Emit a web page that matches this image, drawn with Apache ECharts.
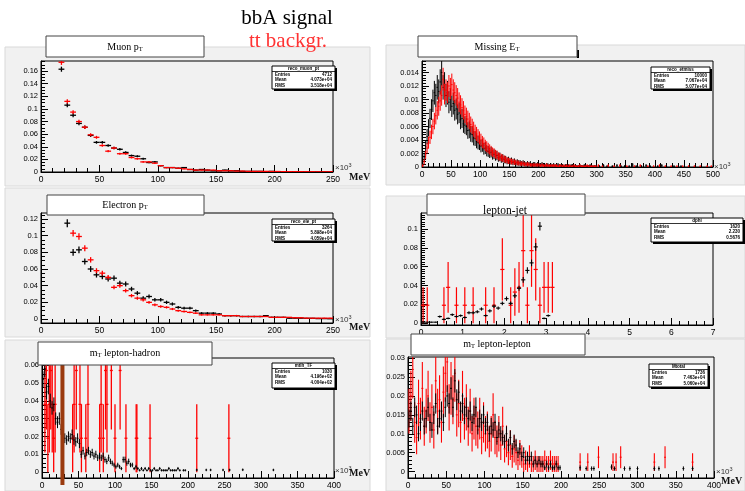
<!DOCTYPE html>
<html><head><meta charset="utf-8">
<script src="https://cdn.jsdelivr.net/npm/echarts@6/dist/echarts.min.js"></script>
<style>html,body{margin:0;padding:0;background:#fff}#c{width:745px;height:491px}</style>
</head><body><div id="c"></div><script>
// ================= DATA =================
// Muon pT (bins of 5 x10^3 MeV, first bin starts at 15)
const muonBinStart = 15, muonBinWidth = 5;
const muonSignal = [0.163,0.106,0.090,0.077,0.071,0.058,0.047,0.047,0.042,0.038,0.036,0.031,0.026,0.025,0.021,0.015,0.016,0.010,0.007,0.007,0.006,0.007,0.004,0.003,0.004,0.003,0.002,0.002,0.003,0.002,0.002,0.001,0.001,0.001,0.001,0.0005,0.001,0.0005,0.0005,0.0003,0.0005,0.0003,0.0002,0.0003,0.0002,0.0002,0.0001];
const muonBkg = [0.174,0.112,0.095,0.080,0.071,0.059,0.055,0.042,0.033,0.038,0.029,0.029,0.023,0.021,0.016,0.016,0.014,0.010,0.007,0.007,0.006,0.005,0.004,0.003,0.003,0.003,0.003,0.002,0.002,0.002,0.0015,0.0015,0.001,0.001,0.001,0.001,0.0008,0.0008,0.0006,0.0006,0.0005,0.0005,0.0004,0.0004,0.0003,0.0003,0.0003];
const muonYTicks = [0,0.02,0.04,0.06,0.08,0.1,0.12,0.14,0.16];

// Missing ET (bins of 2.5 x10^3 MeV from 0 to 300, then sparse points)
const etBinStart = 0, etBinWidth = 2.5;
const etSignal = [0.0004,0.0015,0.0030,0.0045,0.0058,0.0072,0.0085,0.0098,0.0110,0.0106,
0.0118,0.0112,0.0126,0.0140,0.0118,0.0122,0.0106,0.0110,0.0096,0.0100,
0.0090,0.0094,0.0084,0.0086,0.0078,0.0080,0.0070,0.0072,0.0064,0.0062,
0.0060,0.0054,0.0055,0.0049,0.0048,0.0043,0.0042,0.0038,0.0036,0.0035,
0.0031,0.0032,0.0027,0.0028,0.0024,0.0023,0.0021,0.0022,0.0018,0.0019,
0.0016,0.0017,0.0014,0.0015,0.0012,0.0013,0.0011,0.0011,0.0009,0.0010,
0.0008,0.0009,0.0007,0.0008,0.0006,0.0007,0.0006,0.0006,0.0005,0.0006,
0.0005,0.0004,0.0005,0.0004,0.0005,0.0003,0.0004,0.0004,0.0003,0.0004,
0.0003,0.0003,0.0004,0.0003,0.0002,0.0003,0.0003,0.0002,0.0003,0.0002,
0.0003,0.0002,0.0002,0.0003,0.0002,0.0002,0.0002,0.0001,0.0002,0.0002,
0.0002,0.0001,0.0002,0.0002,0.0001,0.0002,0.0001,0.0001,0.0002,0.0001,
0.0001,0.0002,0.0001,0.0001,0.0001,0.0002,0.0001,0.0001,0.0001,0.0001];
const etBkg = [0.0002,0.0008,0.0018,0.0028,0.0036,0.0044,0.0052,0.0060,0.0068,0.0076,
0.0084,0.0090,0.0098,0.0106,0.0130,0.0108,0.0114,0.0110,0.0120,0.0116,
0.0122,0.0114,0.0110,0.0106,0.0102,0.0096,0.0092,0.0088,0.0084,0.0078,
0.0075,0.0071,0.0068,0.0063,0.0060,0.0056,0.0052,0.0049,0.0046,0.0043,
0.0040,0.0037,0.0035,0.0032,0.0030,0.0028,0.0026,0.0024,0.0022,0.0021,
0.0019,0.0018,0.0016,0.0015,0.0014,0.0013,0.0012,0.0011,0.0010,0.0009,
0.0009,0.0008,0.0008,0.0007,0.0007,0.0006,0.0006,0.0005,0.0005,0.0005,
0.0004,0.0004,0.0004,0.0004,0.0003,0.0003,0.0003,0.0003,0.0003,0.0003,
0.0003,0.0002,0.0003,0.0002,0.0002,0.0003,0.0002,0.0002,0.0002,0.0002,
0.0002,0.0002,0.0002,0.0001,0.0002,0.0002,0.0001,0.0002,0.0001,0.0002,
0.0001,0.0002,0.0001,0.0001,0.0002,0.0001,0.0001,0.0001,0.0002,0.0001,
0.0001,0.0001,0.0001,0.0002,0.0001,0.0001,0.0001,0.0001,0.0001,0.0001];
const etSignalTail = [[305,0.0001],[312,0.0002],[318,0.0001],[327,0.0001],[335,0.0002],[342,0.0001],[348,0.0001],[356,0.0001],[362,0.0003],[368,0.0001],[377,0.0001],[385,0.0002],[392,0.0001],[405,0.0001],[412,0.0002],[420,0.0001],[433,0.0001],[445,0.0001]];
const etBkgTail = [[303,0.0002],[310,0.0001],[320,0.0002],[330,0.0001],[340,0.0002],[352,0.0001],[365,0.0001],[375,0.0002],[388,0.0001],[398,0.0001],[408,0.0002],[418,0.0001],[428,0.0001],[438,0.0001],[448,0.0001],[458,0.0001],[468,0.0001],[478,0.0001],[490,0.0001],[497,0.0001]];
const etYTicks = [0,0.002,0.004,0.006,0.008,0.01,0.012,0.014];

// Electron pT (bins of 5 from 20)
const eleBinStart = 20, eleBinWidth = 5;
const eleSignal = [0.115,0.080,0.083,0.069,0.060,0.053,0.051,0.048,0.049,0.043,0.042,0.036,0.031,0.025,0.027,0.023,0.023,0.020,0.018,0.014,0.013,0.013,0.010,0.007,0.007,0.007,0.006,0.004,0.004,0.004,0.003,0.003,0.003,0.003,0.004,0.002,0.002,0.002,0.001,0.001,0.001,0.0008,0.0008,0.0005,0.0005,0.0003];
const eleBkg = [null,0.103,0.099,0.085,0.071,0.058,0.055,0.050,0.038,0.040,0.034,0.028,0.025,0.023,0.020,0.017,0.015,0.014,0.012,0.010,0.009,0.008,0.007,0.005,0.005,0.005,0.005,0.004,0.004,0.004,0.003,0.003,0.003,0.003,0.003,0.002,0.002,0.002,0.002,0.0015,0.0015,0.001,0.001,0.001,0.001,0.001];
const eleYTicks = [0,0.02,0.04,0.06,0.08,0.1,0.12];

// lepton-jet (bins of 0.1 from 0)
const ljBinStart = 0, ljBinWidth = 0.1;
const ljSignal = [0.001,0.001,0.001,0.001,0.007,0.004,0.005,0.009,0.007,0.008,0.006,0.011,0.011,0.012,0.015,0.008,0.013,0.018,0.016,0.021,0.026,0.021,0.029,0.037,0.046,0.056,0.064,0.081,0.103,0.005,0.008];
const ljBkg = [[0.05,0.019],[0.15,0.019],[0.55,0.019],[0.65,0.038],[0.85,0.019],[1.05,0.019],[1.25,0.019],[1.55,0.019],[1.75,0.019],[1.95,0.057],[2.15,0.019],[2.25,0.033],[2.35,0.038],[2.45,0.077],[2.55,0.019],[2.65,0.077],[2.75,0.057],[2.85,0.019],[2.95,0.038],[3.05,0.038],[3.15,0.038]];
const ljYTicks = [0,0.02,0.04,0.06,0.08,0.1];

// mT lepton-hadron (bins of 2.5 from 0, then sparse)
const lhBinStart = 0, lhBinWidth = 2.5;
const lhSignal = [0.052,0.058,0.045,0.048,0.040,0.036,0.038,0.030,0.028,0.030,
0.024,0.022,0.019,0.018,0.020,0.019,0.021,0.018,0.017,0.019,
0.016,0.010,0.012,0.009,0.011,0.012,0.010,0.011,0.009,0.010,
0.008,0.009,0.008,0.009,0.007,0.006,0.008,0.006,0.005,0.004,
0.003,0.004,0.003,0.002,0.007,0.007,0.005,0.006,0.004,0.004,
0.002,0.003,0.002,0.001,0.002,0.001,0.002,0.001,0.002,0.001,
0.001,0.002,0.001,0.001,0.002,0.001,0.001,0.001,0.001,0.002,
0.001,0.001,0.001,0.001,0.002,0.001,null,0.001,0.001,null];
const lhSignalTail = [[212,0.0012],[225,0.0012],[231,0.0012],[248,0.0012],[257,0.0012],[275,0.0013],[317,0.0012]];
const lhBkg = [[4,0.038],[6,0.057],[8,0.019],[10,0.038],[12,0.057],[14,0.038],[16,0.019],[18,0.038],[42,0.019],[44,0.038],[47,0.057],[52,0.038],[54,0.019],[60,0.019],[63,0.038],[79,0.019],[81,0.038],[84,0.019],[87,0.057],[89,0.038],[95,0.057],[100,0.019],[107,0.057],[115,0.019],[129,0.019],[130,0.019],[148,0.019],[212,0.019],[256,0.019]];
const lhMarker = [28];
const lhYTicks = [0,0.01,0.02,0.03,0.04,0.05,0.06];

// mT lepton-lepton (bins of 2.5 from 0, then sparse)
const llBinStart = 0, llBinWidth = 2.5;
const llSignal = [0.014,0.016,0.012,0.017,0.015,0.010,0.013,0.016,0.012,0.014,
0.017,0.013,0.011,0.015,0.018,0.012,0.014,0.016,0.013,0.017,
0.020,0.018,0.022,0.017,0.024,0.019,0.021,0.016,0.018,0.015,
0.017,0.014,0.016,0.013,0.015,0.017,0.012,0.014,0.013,0.015,
0.012,0.013,0.010,0.012,0.011,0.013,0.009,0.011,0.010,0.009,
0.008,0.010,0.007,0.009,0.006,0.008,0.007,0.005,0.006,0.004,
0.005,0.003,0.004,0.003,0.004,0.002,0.003,0.002,0.003,0.002,
0.002,0.001,0.002,0.001,0.002,0.001,0.001,0.002,0.001,0.001];
const llSignalTail = [[225,0.001],[233,0.0008],[240,0.0008],[243,0.0008],[266,0.0012],[270,0.0008],[283,0.0008],[290,0.0008],[300,0.0008],[322,0.0008],[328,0.0008],[360,0.0008],[372,0.0008]];
const llBkg = [0.016,0.020,0.027,0.013,0.009,0.018,0.014,0.022,0.012,0.016,
0.020,0.013,0.017,0.011,0.024,0.016,0.019,0.013,0.021,0.026,
0.029,0.017,0.022,0.019,0.026,0.015,0.018,0.013,0.020,0.014,
0.017,0.012,0.016,0.010,0.014,0.012,0.011,0.014,0.009,0.013,
0.010,0.011,0.008,0.010,0.015,0.009,0.008,0.010,0.007,0.012,
0.006,0.008,0.005,0.007,0.004,0.006,0.005,0.003,0.005,0.004,
0.002,0.003,0.002,0.004,0.002,0.002,0.003,0.002,0.002,0.002,
0.002,0.003,0.002,0.002,0.003,0.002,0.002,0.002,0.002,null];
const llBkgTail = [[225,0.0025],[235,0.0025],[249,0.0038],[268,0.0025],[272,0.0025],[278,0.0038],[322,0.0025],[336,0.0038],[372,0.0025]];
const llYTicks = [0,0.005,0.01,0.015,0.02,0.025,0.03];

// per-entry weights (error = sqrt(content * weight))
const W_MUON_S = 0.0001, W_MUON_B = 0.0001;
const W_ET_S = 0.00028, W_ET_B = 0.00022;
const W_ELE_S = 0.0002, W_ELE_B = 0.00015;
const W_LJ_S = 0.0002, W_LJ_B = 0.0192;
const W_LH_S = 0.0004, W_LH_B = 0.0192;
const W_LL_S = 0.0004, W_LL_B = 0.0022;

// ================= BUILD =================
const SANS = 'Liberation Sans, Arial, sans-serif';
const SERIF = 'Liberation Serif, Times New Roman, serif';
const RED = '#ff0000', BLK = '#000000';

function binned(start, width, vals) {
  const out = [];
  vals.forEach((v, i) => { if (v != null) out.push([start + (i + 0.5) * width, v]); });
  return out;
}
function minorList(max, step) {
  const out = []; for (let k = 0; k * step <= max + 1e-12; k++) out.push(+(k * step).toFixed(6)); return out;
}
function errRender(half, w, color, lw) {
  return function (params, api) {
    const x = api.value(0), y = api.value(1);
    const e = Math.sqrt(Math.max(y, 0) * w);
    const a = api.coord([x - half, y]), b = api.coord([x + half, y]);
    const c = api.coord([x, y + e]), d = api.coord([x, y - e]);
    return { type: 'group', children: [
      { type: 'line', shape: { x1: a[0], y1: a[1], x2: b[0], y2: b[1] }, style: { stroke: color, lineWidth: lw } },
      { type: 'line', shape: { x1: c[0], y1: c[1], x2: d[0], y2: d[1] }, style: { stroke: color, lineWidth: lw } }
    ]};
  };
}

const panels = [
  { grid: { left: 41, top: 61, width: 292, height: 111 }, x: [0, 250, 50], y: [0, 0.176], ticks: muonYTicks, minor: 0.005,
    series: [
      { data: binned(muonBinStart, muonBinWidth, muonSignal), half: 2.5, w: W_MUON_S, color: BLK, lw: 1.3 },
      { data: binned(muonBinStart, muonBinWidth, muonBkg), half: 2.5, w: W_MUON_B, color: RED, lw: 1.3 } ] },
  { grid: { left: 422, top: 61, width: 291, height: 106 }, x: [0, 500, 50], y: [0, 0.0157], ticks: etYTicks, minor: 0.0004,
    series: [
      { data: binned(etBinStart, etBinWidth, etSignal).concat(etSignalTail), half: 1.25, w: W_ET_S, color: BLK, lw: 1 },
      { data: binned(etBinStart, etBinWidth, etBkg).concat(etBkgTail), half: 1.25, w: W_ET_B, color: RED, lw: 1 } ] },
  { grid: { left: 41, top: 213, width: 292, height: 110 }, x: [0, 250, 50], y: [-0.0048, 0.1272], ticks: eleYTicks, minor: 0.005,
    series: [
      { data: binned(eleBinStart, eleBinWidth, eleSignal), half: 2.5, w: W_ELE_S, color: BLK, lw: 1.3 },
      { data: binned(eleBinStart, eleBinWidth, eleBkg), half: 2.5, w: W_ELE_B, color: RED, lw: 1.3 } ] },
  { grid: { left: 421, top: 213, width: 292, height: 112 }, x: [0, 7, 1], y: [-0.002, 0.117], ticks: ljYTicks, minor: 0.0025,
    series: [
      { data: ljBkg, half: 0.05, w: W_LJ_B, color: RED, lw: 1.2 },
      { data: binned(ljBinStart, ljBinWidth, ljSignal), half: 0.05, w: W_LJ_S, color: BLK, lw: 1.1 } ] },
  { grid: { left: 42, top: 358, width: 292, height: 120 }, x: [0, 400, 50], y: [-0.0033, 0.064], ticks: lhYTicks, minor: 0.0025,
    series: [
      { data: lhBkg, half: 2, w: W_LH_B, color: RED, lw: 1.3 },
      { data: binned(lhBinStart, lhBinWidth, lhSignal).concat(lhSignalTail), half: 1.25, w: W_LH_S, color: BLK, lw: 1 } ] },
  { grid: { left: 408, top: 357, width: 306, height: 121 }, x: [0, 400, 50], y: [-0.0017, 0.0303], ticks: llYTicks, minor: 0.001,
    series: [
      { data: binned(llBinStart, llBinWidth, llBkg).concat(llBkgTail), half: 1.25, w: W_LL_B, color: RED, lw: 1.1 },
      { data: binned(llBinStart, llBinWidth, llSignal).concat(llSignalTail), half: 1.25, w: W_LL_S, color: BLK, lw: 1 } ] }
];

const grids = [], xAxes = [], yAxes = [], series = [];
panels.forEach((p, gi) => {
  grids.push(Object.assign({ show: true, borderColor: '#000', borderWidth: 1, backgroundColor: 'transparent', outerBoundsMode: 'none', containLabel: false }, p.grid));
  xAxes.push({ type: 'value', gridIndex: gi, min: p.x[0], max: p.x[1], interval: p.x[2],
    axisLine: { show: true, onZero: false, lineStyle: { color: '#000', width: 1 } },
    axisTick: { show: true, inside: true, length: 7, lineStyle: { color: '#000' } },
    minorTick: { show: true, splitNumber: 5, length: 4, lineStyle: { color: '#000' } },
    axisLabel: { color: '#000', fontSize: 8.5, fontFamily: SANS, margin: 3, hideOverlap: false },
    splitLine: { show: false }, minorSplitLine: { show: false } });
  yAxes.push({ type: 'value', gridIndex: gi, min: p.y[0], max: p.y[1], position: 'left',
    axisLine: { show: true, onZero: false, lineStyle: { color: '#000', width: 1 } },
    axisTick: { show: true, inside: true, length: 7, customValues: p.ticks, lineStyle: { color: '#000' } },
    axisLabel: { color: '#000', fontSize: 7.5, fontFamily: SANS, margin: 3, customValues: p.ticks, formatter: v => String(+(+v).toFixed(4)), hideOverlap: false },
    splitLine: { show: false } });
  yAxes.push({ type: 'value', gridIndex: gi, min: p.y[0], max: p.y[1], position: 'left',
    axisLine: { show: false },
    axisTick: { show: true, inside: true, length: 4, customValues: minorList(p.y[1], p.minor), lineStyle: { color: '#000' } },
    axisLabel: { show: false }, splitLine: { show: false } });
  p.series.forEach(s => {
    series.push({ type: 'custom', xAxisIndex: gi, yAxisIndex: gi * 2, clip: true, data: s.data,
      encode: { x: 0, y: 1 }, renderItem: errRender(s.half, s.w, s.color, s.lw), silent: true });
  });
});
// marker line in mT lepton-hadron panel
series.push({ type: 'custom', xAxisIndex: 4, yAxisIndex: 8, clip: false, data: lhMarker.map(v => [v]), encode: { x: 0 },
  renderItem: function (params, api) {
    const cs = params.coordSys; const px = api.coord([api.value(0), 0])[0];
    return { type: 'rect', shape: { x: px - 2, y: cs.y, width: 4, height: cs.height + 7 }, style: { fill: '#9a3a0e' } };
  }, z: 5 });

// ---------- decorations ----------
const g = [];
const pads = [[5, 47, 365, 139], [386, 45, 359, 140], [5, 188, 365, 149], [386, 196, 359, 142], [5, 340, 365, 151], [386, 339, 359, 152]];
pads.forEach(r => g.push({ type: 'rect', z: -10, shape: { x: r[0], y: r[1], width: r[2], height: r[3] }, style: { fill: '#f1f1f1', stroke: '#d9d9d9', lineWidth: 1 } }));

function titleBox(x, y, w, h, rich, tx, ty) {
  g.push({ type: 'rect', z: 50, shape: { x: x, y: y, width: w, height: h }, style: { fill: '#fff', stroke: '#444', lineWidth: 1 } });
  g.push({ type: 'text', z: 51, x: tx, y: ty, style: { text: rich, align: 'center', verticalAlign: 'middle', rich: {
    m: { fontFamily: SERIF, fontSize: 10, fill: '#000', lineHeight: 12 },
    L: { fontFamily: SERIF, fontSize: 11.5, fill: '#000', lineHeight: 12 },
    s: { fontFamily: SERIF, fontSize: 6.5, fill: '#000', padding: [5, 0, 0, 0], lineHeight: 12 } } } });
}
titleBox(46, 36, 158, 21, '{m|Muon p}{s|T}', 125, 47);
titleBox(418, 36, 159, 21, '{m|Missing E}{s|T}', 497, 47);
g.push({ type: 'rect', z: 49, shape: { x: 577, y: 50, width: 2, height: 8 }, style: { fill: '#000' } });
titleBox(47, 195, 157, 20, '{m|Electron p}{s|T}', 125, 205);
titleBox(427, 194, 158, 21, '', 506, 204);
g.push({ type: 'text', z: 52, x: 505, y: 211, style: { text: 'lepton-jet', align: 'center', verticalAlign: 'middle', font: '11.5px ' + SERIF, fill: '#000' } });
titleBox(38, 342, 174, 23, '{m|m}{s|T}{m| lepton-hadron}', 125, 353);
titleBox(411, 334, 174, 21, '{m|m}{s|T}{m| lepton-lepton}', 497, 344);

function statBox(x, y, w, h, name, rows) {
  g.push({ type: 'rect', z: 49, shape: { x: x + 2, y: y + 2, width: w, height: h }, style: { fill: '#000' } });
  g.push({ type: 'rect', z: 50, shape: { x: x, y: y, width: w, height: h }, style: { fill: '#fff', stroke: '#000', lineWidth: 1 } });
  g.push({ type: 'line', z: 51, shape: { x1: x, y1: y + 5.5, x2: x + w, y2: y + 5.5 }, style: { stroke: '#000', lineWidth: 0.8 } });
  g.push({ type: 'text', z: 51, x: x + w / 2, y: y + 3, style: { text: name, align: 'center', verticalAlign: 'middle', font: 'bold 4.5px ' + SANS, fill: '#000' } });
  rows.forEach((r, i) => {
    const yy = y + 8.5 + i * 5.6;
    g.push({ type: 'text', z: 51, x: x + 3, y: yy, style: { text: r[0], align: 'left', verticalAlign: 'middle', font: 'bold 4.5px ' + SANS, fill: '#000' } });
    g.push({ type: 'text', z: 51, x: x + w - 3, y: yy, style: { text: r[1], align: 'right', verticalAlign: 'middle', font: 'bold 4.5px ' + SANS, fill: '#000' } });
  });
}
statBox(272, 66, 63, 23, 'reco_muon_pt', [['Entries', '4712'], ['Mean', '4.073e+04'], ['RMS', '3.518e+04']]);
statBox(651, 67, 59, 22, 'reco_etmiss', [['Entries', '10000'], ['Mean', '7.067e+04'], ['RMS', '5.077e+04']]);
statBox(272, 219, 63, 22, 'reco_ele_pt', [['Entries', '3264'], ['Mean', '5.898e+04'], ['RMS', '4.059e+04']]);
statBox(651, 218, 92, 24, 'dphi', [['Entries', '1620'], ['Mean', '2.230'], ['RMS', '0.5676']]);
statBox(272, 363, 63, 25, 'mtlh_TF', [['Entries', '1030'], ['Mean', '4.196e+02'], ['RMS', '4.004e+02']]);
statBox(649, 364, 59, 23, 'Mtotal', [['Entries', '1736'], ['Mean', '7.463e+04'], ['RMS', '5.060e+04']]);

function unit(x, y, withMeV, mx, my) {
  g.push({ type: 'text', z: 52, x: x, y: y, style: { text: '×10{e|3}', rich: { e: { fontSize: 5.5, padding: [0, 0, 5, 0], fontFamily: SANS } }, font: '8px ' + SANS, fill: '#333', verticalAlign: 'middle' } });
  if (withMeV) g.push({ type: 'text', z: 52, x: mx, y: my, style: { text: 'MeV', font: 'bold 10px ' + SERIF, fill: '#111', verticalAlign: 'middle' } });
}
unit(335, 168, true, 349, 177);
unit(714, 167, false);
unit(335, 320, true, 349, 327);
unit(335, 471, true, 349, 473);
unit(716, 472, true, 721, 481);

g.push({ type: 'text', z: 60, x: 287, y: 18, style: { text: 'bbA signal', align: 'center', verticalAlign: 'middle', font: '21px ' + SERIF, fill: '#000' } });
g.push({ type: 'text', z: 60, x: 288, y: 41, style: { text: 'tt backgr.', align: 'center', verticalAlign: 'middle', font: '21px ' + SERIF, fill: '#ff3333' } });

const chart = echarts.init(document.getElementById('c'), null, { renderer: 'canvas' });
chart.setOption({ backgroundColor: '#ffffff', animation: false, grid: grids, xAxis: xAxes, yAxis: yAxes, series: series, graphic: { elements: g } });
</script></body></html>
